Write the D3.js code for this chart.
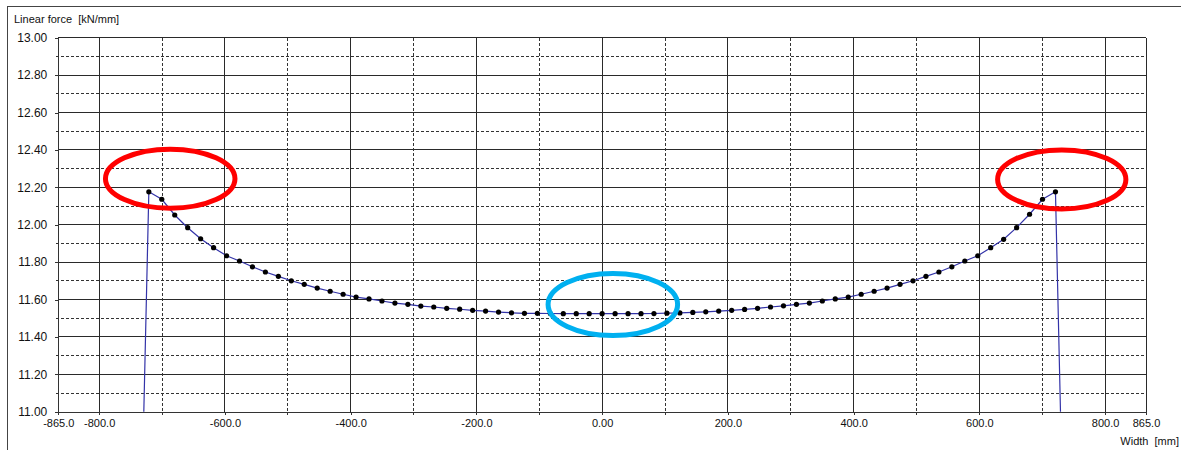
<!DOCTYPE html>
<html>
<head>
<meta charset="utf-8">
<script src="https://cdn.jsdelivr.net/npm/d3@7"></script>
<style>
  html, body { margin: 0; padding: 0; background: #fff; }
  svg { display: block; font-family: "Liberation Sans", Arial, sans-serif; }
  .lbl { white-space: pre; }
</style>
</head>
<body>
<svg id="chart" width="1181" height="450"></svg>
<script>
// Measurement positions across the width [mm]
const widthPos = [
  -721.0, -700.4, -679.8, -659.2, -638.6, -618.0, -597.4, -576.8, -556.2, -535.6,
  -515.0, -494.4, -473.8, -453.2, -432.6, -412.0, -391.4, -370.8, -350.2, -329.6,
  -309.0, -288.4, -267.8, -247.2, -226.6, -206.0, -185.4, -164.8, -144.2, -123.6,
  -103.0, -82.4, -61.8, -41.2, -20.6, 0.0,
  20.6, 41.2, 61.8, 82.4, 103.0, 123.6, 144.2, 164.8, 185.4, 206.0,
  226.6, 247.2, 267.8, 288.4, 309.0, 329.6, 350.2, 370.8, 391.4, 412.0,
  432.6, 453.2, 473.8, 494.4, 515.0, 535.6, 556.2, 576.8, 597.4, 618.0,
  638.6, 659.2, 679.8, 700.4, 721.0
];

// Linear force at each position [kN/mm]
const linearForce = [
  12.176, 12.136, 12.052, 11.984, 11.925, 11.877, 11.834, 11.806, 11.775, 11.747,
  11.724, 11.700, 11.681, 11.661, 11.644, 11.628, 11.613, 11.603, 11.592, 11.581,
  11.574, 11.565, 11.560, 11.553, 11.548, 11.542, 11.538, 11.533, 11.529, 11.526,
  11.526, 11.525, 11.524, 11.524, 11.524, 11.524,
  11.524, 11.524, 11.524, 11.525, 11.527, 11.528, 11.531, 11.534, 11.538, 11.542,
  11.547, 11.553, 11.560, 11.566, 11.574, 11.581, 11.592, 11.603, 11.613, 11.628,
  11.644, 11.661, 11.681, 11.700, 11.724, 11.747, 11.775, 11.806, 11.834, 11.877,
  11.922, 11.984, 12.056, 12.136, 12.176
];

// Edge drop-off of the profile (roll edges)
const edgePos = [-729.0, 729.0];
const edgeForce = [11.00, 11.00];

// Axis ticks
const xMajorTicks = [-865, -800, -600, -400, -200, 0, 200, 400, 600, 800, 865];
const xTickLabels = ["-865.0", "-800.0", "-600.0", "-400.0", "-200.0", "0.00", "200.0", "400.0", "600.0", "800.0", "865.0"];
const xSolidGrid = [-800, -600, -400, -200, 0, 200, 400, 600, 800, 865];
const xDashedGrid = [-700, -500, -300, -100, 100, 300, 500, 700];
const yMajorTicks = [11.0, 11.2, 11.4, 11.6, 11.8, 12.0, 12.2, 12.4, 12.6, 12.8, 13.0];
const yTickLabels = ["11.00", "11.20", "11.40", "11.60", "11.80", "12.00", "12.20", "12.40", "12.60", "12.80", "13.00"];
const yDashedGrid = [11.1, 11.3, 11.5, 11.7, 11.9, 12.1, 12.3, 12.5, 12.7, 12.9];

// Highlight ellipses (centre and radii in data units)
const markCx = [-687, 731, 17];
const markCy = [12.246, 12.242, 11.573];
const markRx = [103, 102, 103];
const markRy = [0.158, 0.158, 0.166];
const markColor = ["#ff0000", "#ff0000", "#00b0f0"];

const svg = d3.select("#chart");

const x = d3.scaleLinear().domain([-865, 865]).range([58.3, 1146]);
const y = d3.scaleLinear().domain([11, 13]).range([411.7, 37.7]);

// outer frame
svg.append("rect")
  .attr("x", 7.5).attr("y", 6.5)
  .attr("width", 1200).attr("height", 500)
  .attr("fill", "none").attr("stroke", "#444").attr("stroke-width", 1);

const grid = svg.append("g").attr("shape-rendering", "crispEdges");

// horizontal grid
grid.selectAll("line.hs").data(yMajorTicks.filter(v => v > 11)).join("line")
  .attr("x1", x(-865)).attr("x2", x(865))
  .attr("y1", d => y(d)).attr("y2", d => y(d))
  .attr("stroke", "#2a2a2a").attr("stroke-width", 1);
grid.selectAll("line.hd").data(yDashedGrid).join("line")
  .attr("x1", x(-865) - 2).attr("x2", x(865))
  .attr("y1", d => y(d)).attr("y2", d => y(d))
  .attr("stroke", "#333").attr("stroke-width", 1)
  .attr("stroke-dasharray", "3,2");

// vertical grid
grid.selectAll("line.vs").data(xSolidGrid).join("line")
  .attr("x1", d => x(d)).attr("x2", d => x(d))
  .attr("y1", y(13)).attr("y2", y(11))
  .attr("stroke", "#2a2a2a").attr("stroke-width", 1);
grid.selectAll("line.vd").data(xDashedGrid).join("line")
  .attr("x1", d => x(d)).attr("x2", d => x(d))
  .attr("y1", y(13)).attr("y2", y(11) + 3)
  .attr("stroke", "#333").attr("stroke-width", 1)
  .attr("stroke-dasharray", "3,2");

// axes
const xAxis = d3.axisBottom(x)
  .tickValues(xMajorTicks)
  .tickFormat((d, i) => xTickLabels[i])
  .tickSize(3).tickSizeOuter(0).tickPadding(4.5);
const gx = svg.append("g").attr("transform", `translate(0,${y(11)})`).call(xAxis);
gx.select(".domain").attr("stroke", "#333").attr("shape-rendering", "crispEdges");
gx.selectAll(".tick line").attr("stroke", "#333").attr("shape-rendering", "crispEdges");
gx.selectAll(".tick text").attr("font-size", 11).attr("fill", "#111")
  .attr("font-family", "Liberation Sans, Arial, sans-serif");

const yAxis = d3.axisLeft(y)
  .tickValues(yMajorTicks)
  .tickFormat((d, i) => yTickLabels[i])
  .tickSize(3).tickSizeOuter(0).tickPadding(8);
const gy = svg.append("g").attr("transform", `translate(${x(-865)},0)`).call(yAxis);
gy.select(".domain").attr("stroke", "#333").attr("shape-rendering", "crispEdges");
gy.selectAll(".tick line").attr("stroke", "#333").attr("shape-rendering", "crispEdges");
gy.selectAll(".tick text").attr("font-size", 12).attr("fill", "#111")
  .attr("font-family", "Liberation Sans, Arial, sans-serif");

// force profile line, including the edge drop-offs
const pts = widthPos.map((w, i) => ({ w, f: linearForce[i] }));
const linePts = [{ w: edgePos[0], f: edgeForce[0] }, ...pts, { w: edgePos[1], f: edgeForce[1] }];
svg.append("path")
  .datum(linePts)
  .attr("fill", "none")
  .attr("stroke", "#3333a8")
  .attr("stroke-width", 1.2)
  .attr("d", d3.line().x(d => x(d.w)).y(d => y(d.f)));

// measurement points
svg.append("g").selectAll("circle").data(pts).join("circle")
  .attr("cx", d => x(d.w)).attr("cy", d => y(d.f))
  .attr("r", 2.6).attr("fill", "#000");

// highlight ellipses
svg.append("g").selectAll("ellipse").data(markCx).join("ellipse")
  .attr("cx", (d, i) => x(d))
  .attr("cy", (d, i) => y(markCy[i]))
  .attr("rx", (d, i) => x(markRx[i]) - x(0))
  .attr("ry", (d, i) => y(11) - y(11 + markRy[i]))
  .attr("fill", "none")
  .attr("stroke", (d, i) => markColor[i])
  .attr("stroke-width", 5);

// axis titles
svg.append("text").attr("class", "lbl")
  .attr("x", 14).attr("y", 22.5)
  .attr("font-size", 11).attr("fill", "#111")
  .text("Linear force  [kN/mm]");
svg.append("text").attr("class", "lbl")
  .attr("x", 1179).attr("y", 445)
  .attr("text-anchor", "end")
  .attr("font-size", 11).attr("fill", "#111")
  .text("Width  [mm]");
</script>
</body>
</html>
